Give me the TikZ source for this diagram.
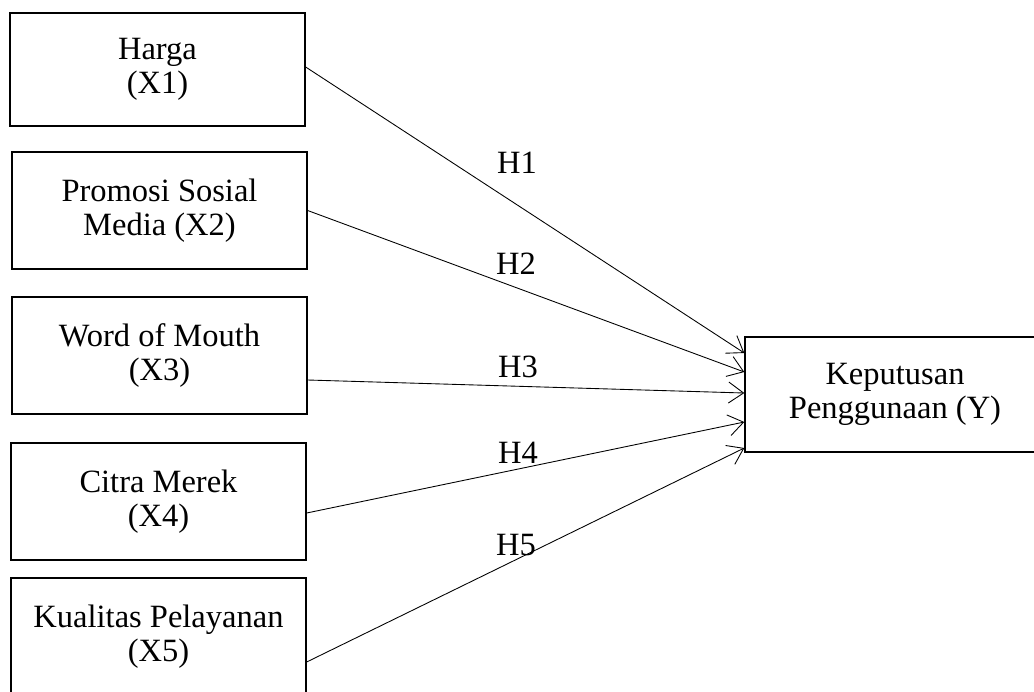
\documentclass[tikz,border=0pt]{standalone}
\usepackage{fontspec}
\setmainfont{Liberation Serif}
\usetikzlibrary{arrows.meta}

\begin{document}
\begin{tikzpicture}[x=0.02cm, y=-0.02cm,
    var/.style={draw, line width=0.8pt, minimum width=5.9cm, minimum height=2.34cm,
      align=center, inner sep=0pt, font=\fontsize{18.5}{19.6}\selectfont},
    hyp/.style={line width=0.5pt, -{Straight Barb[length=0.3cm, width=0.42cm]}},
    lbl/.style={inner sep=0pt, font=\fontsize{18.5}{19.6}\selectfont}]
      \useasboundingbox (0,0) rectangle (1034,691);
      \clip (0,0) rectangle (1034,691);

      \node[var, minimum height=2.26cm] (x1) at (157.5,69.5) {Harga\\(X1)};
      \node[var] (x2) at (159.5,210.5) {Promosi Sosial\\Media (X2)};
      \node[var] (x3) at (159.5,355.5) {Word of Mouth\\(X3)};
      \node[var] (x4) at (158.5,501.5) {Citra Merek\\(X4)};
      \node[var] (x5) at (158.5,636.5) {Kualitas Pelayanan\\(X5)};

      \node[var, minimum width=6cm, minimum height=2.3cm] (y) at (895,394.5) {Keputusan\\Penggunaan (Y)};

      \draw[hyp] ([yshift=0.05cm]x1.east) -- ([yshift=0.83cm]y.west);
      \draw[hyp] (x2.east) -- ([yshift=0.45cm]y.west);
      \draw[hyp] ([yshift=-0.49cm]x3.east) -- ([yshift=0.03cm]y.west);
      \draw[hyp] ([yshift=-0.23cm]x4.east) -- ([yshift=-0.55cm]y.west);
      \draw[hyp] ([yshift=-0.51cm]x5.east) -- ([yshift=-1.07cm]y.west);

      \node[lbl] (h1) at (517,163) {H1};
      \node[lbl] (h2) at (516,264) {H2};
      \node[lbl] (h3) at (518,367) {H3};
      \node[lbl] (h4) at (518,453) {H4};
      \node[lbl] (h5) at (516,545) {H5};
    \end{tikzpicture}
\end{document}
